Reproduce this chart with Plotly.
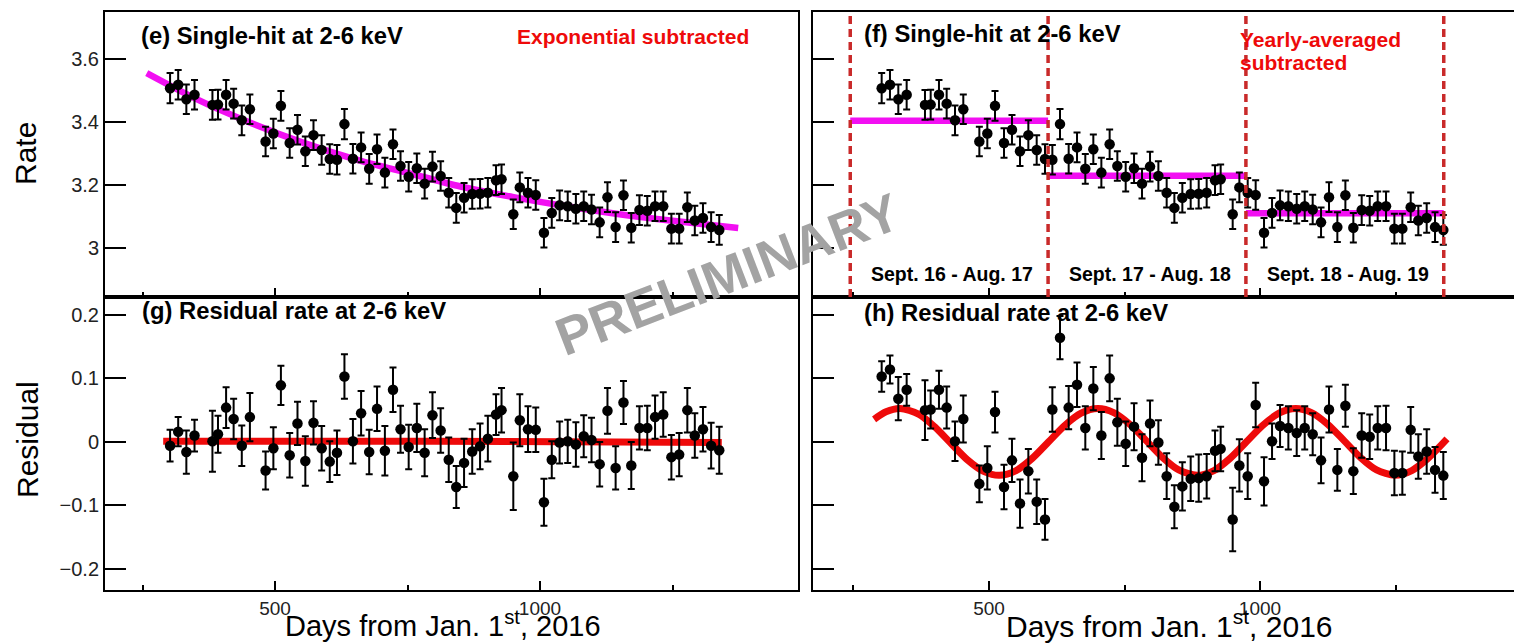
import plotly.graph_objects as go

W, H = 1514, 643

# ---- measured time bins (days from Jan 1st 2016) ----
days = [302.0, 317.3, 332.7, 348.1, 381.9, 392.4, 407.7, 421.9, 437.3, 452.6,
        482.2, 496.9, 511.1, 527.7, 542.4, 557.2, 572.6, 588.0, 603.3, 616.9,
        631.0, 647.0, 662.4, 677.7, 692.5, 707.3, 722.6, 736.8, 752.2, 767.6,
        782.3, 797.1, 812.5, 827.8, 842.0, 856.7, 872.1, 886.9, 901.6, 917.0,
        927.4, 949.6, 961.9, 977.3, 992.0, 1007.4, 1022.2, 1037.0, 1052.3, 1067.7,
        1082.5, 1097.2, 1112.6, 1127.3, 1142.7, 1157.5, 1172.2, 1187.6, 1202.4, 1217.1,
        1232.5, 1247.9, 1262.6, 1278.0, 1292.1, 1307.5, 1322.9, 1338.2]

# single-hit rate at 2-6 keV
rate = [3.508, 3.519, 3.473, 3.487, 3.455, 3.456, 3.487, 3.459, 3.406, 3.441,
        3.339, 3.364, 3.452, 3.334, 3.376, 3.308, 3.359, 3.312, 3.283, 3.281,
        3.394, 3.284, 3.320, 3.252, 3.314, 3.240, 3.330, 3.261, 3.227, 3.254,
        3.205, 3.259, 3.229, 3.176, 3.128, 3.160, 3.172, 3.173, 3.176, 3.216,
        3.219, 3.108, 3.193, 3.176, 3.169, 3.049, 3.112, 3.136, 3.133, 3.125,
        3.133, 3.123, 3.082, 3.162, 3.067, 3.168, 3.065, 3.121, 3.119, 3.133,
        3.133, 3.062, 3.062, 3.130, 3.088, 3.096, 3.067, 3.058]
rate_err = [0.048, 0.047, 0.047, 0.047, 0.047, 0.047, 0.047, 0.047, 0.047, 0.047,
            0.047, 0.047, 0.047, 0.047, 0.047, 0.047, 0.047, 0.047, 0.047, 0.047,
            0.048, 0.047, 0.047, 0.047, 0.047, 0.047, 0.047, 0.047, 0.047, 0.047,
            0.047, 0.047, 0.047, 0.047, 0.047, 0.047, 0.047, 0.047, 0.047, 0.047,
            0.047, 0.047, 0.047, 0.047, 0.047, 0.047, 0.047, 0.047, 0.047, 0.047,
            0.047, 0.047, 0.047, 0.047, 0.047, 0.047, 0.047, 0.047, 0.047, 0.047,
            0.047, 0.047, 0.047, 0.047, 0.047, 0.047, 0.047, 0.047]

# residual after exponential subtraction
resid_exp = [-0.006, 0.016, -0.016, 0.010, 0.001, 0.012, 0.054, 0.036, -0.006, 0.039,
             -0.045, -0.010, 0.089, -0.021, 0.029, -0.030, 0.030, -0.010, -0.031, -0.017,
             0.103, 0.001, 0.045, -0.016, 0.052, -0.014, 0.082, 0.020, -0.008, 0.022,
             -0.017, 0.042, 0.018, -0.028, -0.071, -0.033, -0.015, -0.007, 0.005, 0.043,
             0.050, -0.054, 0.034, 0.020, 0.019, -0.095, -0.028, -0.001, 0.001, -0.004,
             0.009, 0.003, -0.035, 0.049, -0.041, 0.062, -0.037, 0.022, 0.022, 0.039,
             0.043, -0.024, -0.020, 0.050, 0.010, 0.020, -0.006, -0.013]
resid_exp_err = [0.025, 0.023, 0.034, 0.025, 0.048, 0.029, 0.032, 0.032, 0.032, 0.038,
                 0.030, 0.033, 0.031, 0.035, 0.034, 0.039, 0.034, 0.035, 0.032, 0.035,
                 0.035, 0.035, 0.035, 0.035, 0.035, 0.039, 0.035, 0.037, 0.035, 0.038,
                 0.037, 0.036, 0.035, 0.035, 0.033, 0.038, 0.035, 0.036, 0.036, 0.032,
                 0.035, 0.053, 0.041, 0.036, 0.035, 0.037, 0.029, 0.033, 0.034, 0.035,
                 0.033, 0.035, 0.035, 0.036, 0.034, 0.034, 0.037, 0.034, 0.035, 0.034,
                 0.035, 0.035, 0.034, 0.035, 0.035, 0.035, 0.036, 0.037]

# residual after yearly-average subtraction
resid_year = [0.103, 0.114, 0.068, 0.082, 0.050, 0.051, 0.082, 0.054, 0.001, 0.036,
              -0.066, -0.041, 0.047, -0.071, -0.029, -0.097, -0.046, -0.094, -0.122, 0.051,
              0.164, 0.054, 0.090, 0.022, 0.084, 0.010, 0.100, 0.031, -0.003, 0.024,
              -0.025, 0.029, -0.001, -0.054, -0.102, -0.070, -0.058, -0.057, -0.054, -0.014,
              -0.011, -0.122, -0.037, -0.054, 0.058, -0.062, 0.001, 0.025, 0.022, 0.014,
              0.022, 0.012, -0.029, 0.051, -0.044, 0.057, -0.046, 0.010, 0.008, 0.022,
              0.022, -0.049, -0.049, 0.019, -0.023, -0.015, -0.044, -0.053]
resid_year_err = [0.024, 0.022, 0.034, 0.025, 0.047, 0.030, 0.030, 0.033, 0.031, 0.037,
                  0.029, 0.034, 0.032, 0.035, 0.034, 0.038, 0.035, 0.035, 0.032, 0.035,
                  0.034, 0.034, 0.035, 0.034, 0.034, 0.037, 0.036, 0.037, 0.035, 0.037,
                  0.037, 0.036, 0.035, 0.036, 0.034, 0.038, 0.035, 0.037, 0.035, 0.032,
                  0.035, 0.050, 0.041, 0.036, 0.035, 0.038, 0.028, 0.033, 0.034, 0.036,
                  0.034, 0.033, 0.036, 0.036, 0.033, 0.033, 0.036, 0.035, 0.035, 0.034,
                  0.035, 0.035, 0.034, 0.036, 0.035, 0.035, 0.036, 0.037]

# exponential fit curve (knots)
exp_days = [258, 350, 450, 550, 650, 750, 850, 950, 1050, 1150, 1250, 1374]
exp_rate = [3.556, 3.475, 3.401, 3.337, 3.283, 3.239, 3.196, 3.162, 3.133, 3.108, 3.087, 3.064]

# flat fit on exponential residual
flat_days = [289, 800, 1343]
flat_val = [0.001, 0.001, -0.001]

# annual modulation fit (knots)
mod_days = [288, 310, 336, 370, 400, 428, 460, 490, 519, 550, 580, 610,
            640, 670, 701, 730, 760, 790, 820, 850, 884, 915, 945, 975,
            1005, 1035, 1066, 1095, 1125, 1155, 1185, 1215, 1249, 1280, 1310, 1345]
mod_val = [0.0356, 0.0474, 0.0525, 0.0438, 0.0237, -0.0006, -0.0281, -0.0463, -0.0525, -0.0450, -0.0257, 0.0002,
           0.0261, 0.0452, 0.0525, 0.0461, 0.0277, 0.0020, -0.0242, -0.0440, -0.0525, -0.0450, -0.0257, 0.0002,
           0.0261, 0.0452, 0.0525, 0.0461, 0.0277, 0.0020, -0.0242, -0.0440, -0.0525, -0.0450, -0.0257, 0.0048]

# yearly periods
period_bounds = [244, 609, 974, 1339]
period_means = [3.405, 3.230, 3.111]
period_labels = ["Sept. 16 - Aug. 17", "Sept. 17 - Aug. 18", "Sept. 18 - Aug. 19"]

rate_ticks = [3.0, 3.2, 3.4, 3.6]
rate_ticktext = ["3", "3.2", "3.4", "3.6"]
resid_ticks = [-0.2, -0.1, 0.0, 0.1, 0.2]
resid_ticktext = ["\u22120.2", "\u22120.1", "0", "0.1", "0.2"]

FONT = "Liberation Sans, Arial, Helvetica, sans-serif"
MAGENTA = "#f20ff2"
RED = "#ee0a0a"
DASHRED = "#c92a2a"


def px(x):
    return x / W


def py(y):
    return 1 - y / H


fig = go.Figure()


def points(x, y, err, xa, ya):
    fig.add_trace(go.Scatter(
        x=x, y=y, mode="markers", xaxis=xa, yaxis=ya,
        marker=dict(color="black", size=10.5),
        error_y=dict(type="data", array=err, visible=True,
                     color="black", thickness=2, width=3.5),
        hoverinfo="skip", showlegend=False))


def curve(x, y, xa, ya, color, width):
    fig.add_trace(go.Scatter(
        x=x, y=y, mode="lines", xaxis=xa, yaxis=ya,
        line=dict(color=color, width=width, shape="spline", smoothing=0.8),
        hoverinfo="skip", showlegend=False))


# (e) rate with exponential
curve(exp_days, exp_rate, "x", "y", MAGENTA, 6.5)
points(days, rate, rate_err, "x", "y")

# (f) rate with yearly averages
for i, m in enumerate(period_means):
    fig.add_trace(go.Scatter(
        x=[period_bounds[i], period_bounds[i + 1]], y=[m, m], mode="lines",
        xaxis="x2", yaxis="y2", line=dict(color=MAGENTA, width=6.5),
        hoverinfo="skip", showlegend=False))
points(days, rate, rate_err, "x2", "y2")

# (g) exponential residual
curve(flat_days, flat_val, "x3", "y3", RED, 7)
points(days, resid_exp, resid_exp_err, "x3", "y3")

# (h) yearly residual with modulation
curve(mod_days, mod_val, "x4", "y4", RED, 7)
points(days, resid_year, resid_year_err, "x4", "y4")

# period boundaries
shapes = []
for b in period_bounds:
    shapes.append(dict(type="line", xref="x2", yref="y2 domain", x0=b, x1=b, y0=0, y1=1,
                       line=dict(color=DASHRED, width=3.5, dash="8px,5px")))

LEFT_DOM = [px(105), px(798)]
RIGHT_DOM = [px(813), 1.0]
TOP_DOM = [py(297), py(12)]
BOT_DOM = [py(590), py(297)]
LEFT_RANGE = [179.2, 1486.8]
RIGHT_RANGE = [175.3, 1468.6]

xcommon = dict(showline=True, linecolor="black", linewidth=2, mirror=True,
               ticks="inside", ticklen=9, tickwidth=2, tickcolor="black",
               tick0=0, dtick=500, showgrid=False, zeroline=False,
               minor=dict(ticks="inside", dtick=250, tick0=0, ticklen=5,
                          tickwidth=2, tickcolor="black", showgrid=False),
               tickfont=dict(family=FONT, size=19, color="#222"))
ycommon = dict(showline=True, linecolor="black", linewidth=2,
               ticks="inside", ticklen=21, tickwidth=2, tickcolor="black",
               showgrid=False, zeroline=False,
               tickfont=dict(family=FONT, size=20, color="#222"))

fig.update_layout(
    width=W, height=H, margin=dict(l=0, r=0, t=0, b=0),
    paper_bgcolor="white", plot_bgcolor="white", showlegend=False,
    xaxis=dict(domain=LEFT_DOM, range=LEFT_RANGE, anchor="y", showticklabels=False, **xcommon),
    xaxis2=dict(domain=RIGHT_DOM, range=RIGHT_RANGE, anchor="y2", showticklabels=False, **xcommon),
    xaxis3=dict(domain=LEFT_DOM, range=LEFT_RANGE, anchor="y3", showticklabels=True, **xcommon),
    xaxis4=dict(domain=RIGHT_DOM, range=RIGHT_RANGE, anchor="y4", showticklabels=True, **xcommon),
    yaxis=dict(domain=TOP_DOM, range=[2.845, 3.75], anchor="x", mirror=True,
               tickvals=rate_ticks, ticktext=rate_ticktext, **ycommon),
    yaxis2=dict(domain=TOP_DOM, range=[2.845, 3.75], anchor="x2", mirror=False,
                tickvals=rate_ticks, showticklabels=False, **ycommon),
    yaxis3=dict(domain=BOT_DOM, range=[-0.233, 0.228], anchor="x3", mirror=True,
                tickvals=resid_ticks, ticktext=resid_ticktext, **ycommon),
    yaxis4=dict(domain=BOT_DOM, range=[-0.233, 0.228], anchor="x4", mirror=False,
                tickvals=resid_ticks, showticklabels=False, **ycommon),
    shapes=shapes,
)

ann = []


def text(x, y, s, size, color="black", bold=True, xanchor="left", angle=0, xref="paper"):
    ann.append(dict(x=x, y=y, xref=xref, yref="paper", text=("<b>%s</b>" % s) if bold else s,
                    showarrow=False, xanchor=xanchor, yanchor="middle", textangle=angle,
                    font=dict(family=FONT, size=size, color=color)))


text(px(139), py(35), "(e) Single-hit at 2-6 keV", 23.8)
text(px(515), py(36), "Exponential subtracted", 21, color=RED)
text(px(862), py(34), "(f) Single-hit at 2-6 keV", 23.8)
text(px(1238), py(40), "Yearly-averaged", 21, color=RED)
text(px(1238), py(63), "subtracted", 21, color=RED)
text(px(140), py(310), "(g) Residual rate at 2-6 keV", 23.8)
text(px(862), py(312), "(h) Residual rate at 2-6 keV", 23.8)

for i, lab in enumerate(period_labels):
    cx = 0.5 * (period_bounds[i] + period_bounds[i + 1]) + 5
    text(cx, py(274), lab, 19.5, xanchor="center", xref="x2")

# axis titles
text(px(25), py(154), "Rate", 30, bold=False, xanchor="center", angle=-90)
text(px(28), py(440), "Residual", 30, bold=False, xanchor="center", angle=-90)
text(px(443), py(624), "Days from Jan. 1<sup>st</sup>, 2016", 29, bold=False, xanchor="center")
text(px(1169), py(624), "Days from Jan. 1<sup>st</sup>, 2016", 30, bold=False, xanchor="center")

# watermark
text(px(727), py(274), "PRELIMINARY", 53, color="#a3a3a3", xanchor="center", angle=-21)

fig.update_layout(annotations=ann)

fig.write_html("out.html")
